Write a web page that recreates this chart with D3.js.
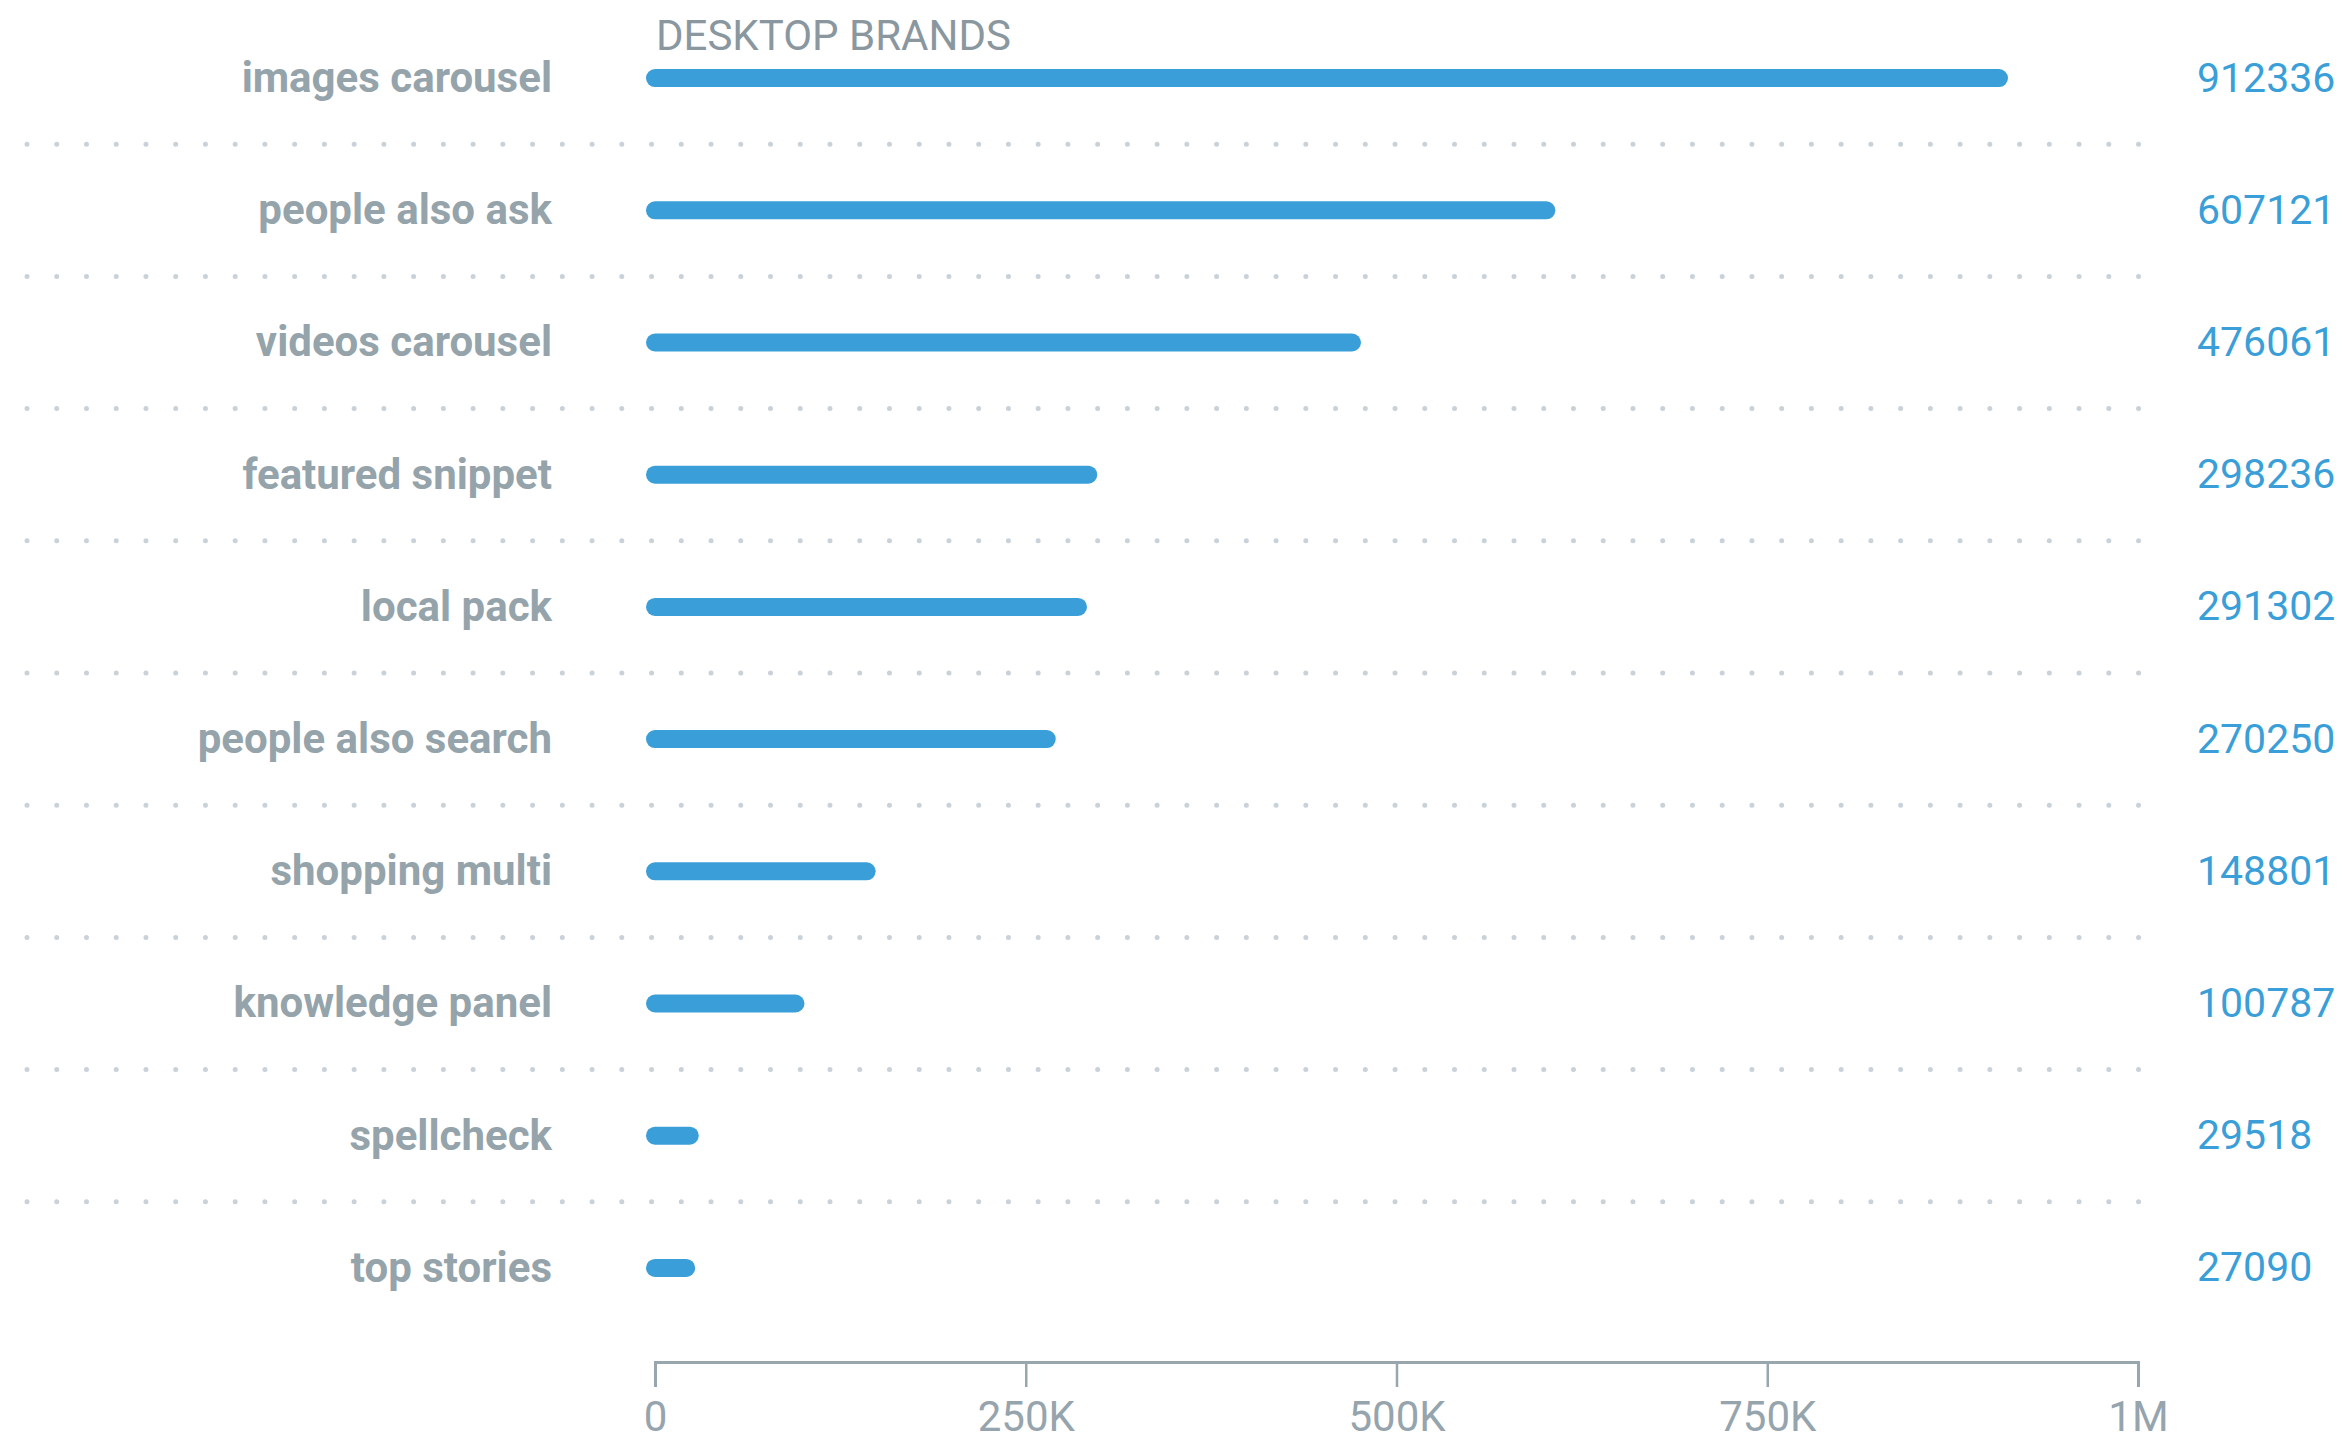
<!DOCTYPE html>
<html>
<head>
<meta charset="utf-8">
<script src="https://cdn.jsdelivr.net/npm/d3@7"></script>
<style>
  html, body { margin: 0; padding: 0; background: #fff; }
  svg { display: block; font-family: Roboto, "Noto Sans", sans-serif; }
</style>
</head>
<body>
<div id="chart"></div>
<script>
const categories = ['images carousel', 'people also ask', 'videos carousel', 'featured snippet', 'local pack',
  'people also search', 'shopping multi', 'knowledge panel', 'spellcheck', 'top stories'];
const values = [912336, 607121, 476061, 298236, 291302, 270250, 148801, 100787, 29518, 27090];
const tickValues = [0, 250000, 500000, 750000, 1000000];
const tickLabels = ['0', '250K', '500K', '750K', '1M'];
const title = 'DESKTOP BRANDS';

const width = 2347, height = 1444;
const barH = 18;

const svg = d3.select('#chart')
  .append('svg')
  .attr('width', width)
  .attr('height', height);

const x = d3.scaleLinear()
  .domain([0, 1000000])
  .range([655, 2138]);

const y = d3.scaleBand()
  .domain(categories)
  .range([12, 1334])
  .padding(0);

// dotted separators between rows
svg.append('g')
  .selectAll('line')
  .data(categories.slice(1))
  .enter()
  .append('line')
  .attr('x1', 27)
  .attr('x2', 2139)
  .attr('y1', d => y(d))
  .attr('y2', d => y(d))
  .attr('stroke', '#c9d1d9')
  .attr('stroke-width', 5)
  .attr('stroke-linecap', 'round')
  .attr('stroke-dasharray', '0 29.74');

// title
svg.append('text')
  .attr('x', 656)
  .attr('y', 50)
  .attr('fill', '#8a979f')
  .style('font-size', '42px')
  .text(title);

// bars
svg.append('g')
  .selectAll('rect')
  .data(values)
  .enter()
  .append('rect')
  .attr('x', x(0) - barH / 2)
  .attr('y', (d, i) => y(categories[i]) + y.bandwidth() / 2 - barH / 2)
  .attr('width', d => x(d) - x(0) + barH / 2)
  .attr('height', barH)
  .attr('rx', barH / 2)
  .attr('fill', '#3a9fd8');

// category labels
svg.append('g')
  .selectAll('text')
  .data(categories)
  .enter()
  .append('text')
  .attr('x', 552)
  .attr('y', d => y(d) + y.bandwidth() / 2)
  .attr('dy', '0.33em')
  .attr('text-anchor', 'end')
  .attr('fill', '#95a3ab')
  .style('font-size', '42px')
  .style('font-weight', 'bold')
  .text(d => d);

// value labels
svg.append('g')
  .selectAll('text')
  .data(values)
  .enter()
  .append('text')
  .attr('x', 2197)
  .attr('y', (d, i) => y(categories[i]) + y.bandwidth() / 2)
  .attr('dy', '0.33em')
  .attr('fill', '#3a9fd8')
  .style('font-size', '41px')
  .text(d => d);

// x axis
const axis = svg.append('g')
  .attr('transform', 'translate(0,1362)')
  .call(d3.axisBottom(x)
    .tickValues(tickValues)
    .tickFormat((d, i) => tickLabels[i])
    .tickSize(25)
    .tickSizeOuter(25)
    .tickPadding(14));

axis.select('.domain')
  .attr('stroke', '#98a6ae')
  .attr('stroke-width', 3);
axis.selectAll('.tick line')
  .attr('stroke', '#98a6ae')
  .attr('stroke-width', 2.5);
axis.selectAll('.tick text')
  .attr('fill', '#95a4ad')
  .style('font-size', '42px')
  .style('font-family', 'Roboto, sans-serif');
</script>
</body>
</html>
